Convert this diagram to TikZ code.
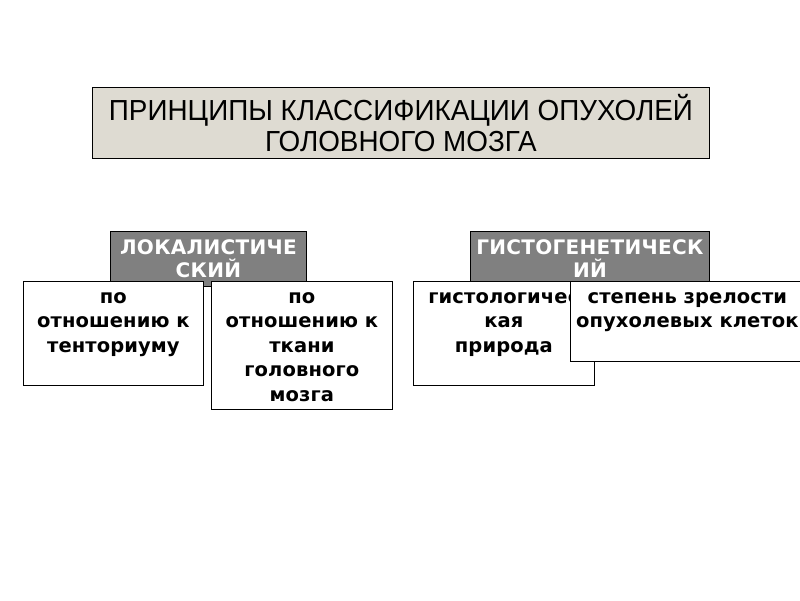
\documentclass[tikz,border=0pt]{standalone}
\usepackage{fontspec}
\setmainfont{DejaVu Sans}
\newfontfamily\titlefont[FakeStretch=0.96]{Liberation Sans}
\newfontfamily\boxfont[LetterSpace=0.5]{DejaVu Sans}
\newfontfamily\headfont[LetterSpace=1.5]{DejaVu Sans}
\usepackage{xcolor}
\usepackage{tikz}
\usetikzlibrary{positioning}

\definecolor{titlebg}{RGB}{222,219,210}
\definecolor{headgray}{RGB}{128,128,128}

\begin{document}
\begin{tikzpicture}[x=1pt, y=-1pt,
  head/.style={draw, fill=headgray, text=white, line width=0.8pt, anchor=north west, inner sep=0pt,
    align=center, font=\headfont\bfseries\fontsize{20}{23}\selectfont},
  box/.style={draw, fill=white, line width=0.8pt, anchor=north west, inner sep=0pt},
  txt/.style={align=center, anchor=north, inner sep=0pt, font=\boxfont\bfseries\fontsize{19.5}{24.5}\selectfont}]
\useasboundingbox (0,0) rectangle (800,600);
\clip (0,0) rectangle (800,600);

% title
\node[draw, fill=titlebg, line width=0.8pt, anchor=north west, minimum width=617pt, minimum height=71pt,
  align=center, font=\titlefont\fontsize{29}{31}\selectfont] (title) at (92,87)
  {ПРИНЦИПЫ КЛАССИФИКАЦИИ ОПУХОЛЕЙ\\ГОЛОВНОГО МОЗГА};

% headers
\node[head, minimum width=196pt, minimum height=55pt] (loc) at (110,231) {ЛОКАЛИСТИЧЕ\\СКИЙ};
\node[head, minimum width=239pt, minimum height=55pt] (hist) at (470,231) {ГИСТОГЕНЕТИЧЕСК\\ИЙ};

% boxes
\node[box, minimum width=180pt, minimum height=104pt] (tent) at (23,281) {};
\node[txt, yshift=-4.9pt] (tenttext) at (tent.north) {\strut по\\отношению к\\тенториуму};
\node[box, minimum width=181pt, minimum height=128pt] (tiss) at (211,281) {};
\node[txt, yshift=-4.9pt] (tisstext) at (tiss.north) {\strut по\\отношению к\\ткани\\головного\\мозга};
\node[box, minimum width=181pt, minimum height=104pt] (nat) at (413,281) {};
\node[txt, yshift=-4.9pt] (nattext) at (nat.north) {\strut гистологичес\\кая\\природа};
\node[box, minimum width=234pt, minimum height=80pt] (mat) at (570,281) {};
\node[txt, yshift=-4.9pt] (mattext) at (mat.north) {\strut степень зрелости\\опухолевых клеток};
\end{tikzpicture}
\end{document}
